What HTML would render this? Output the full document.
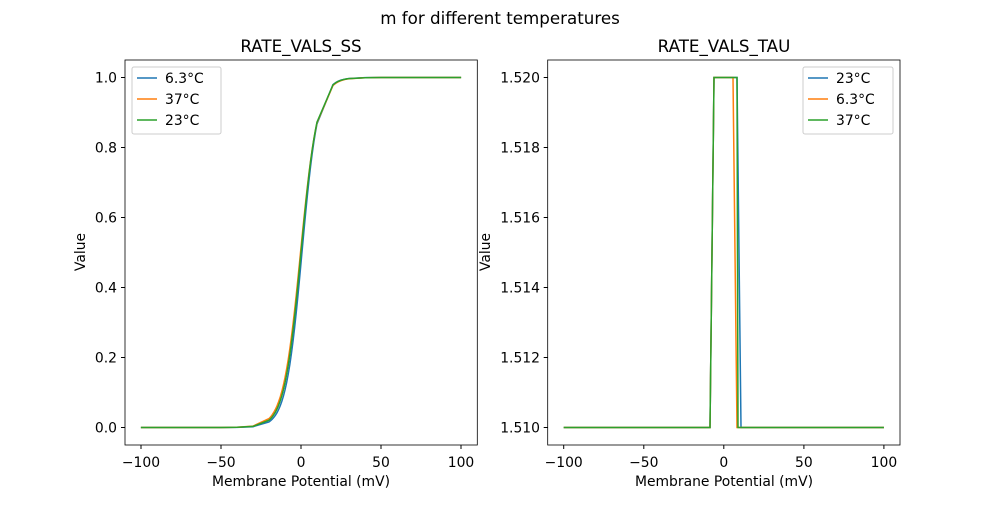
<!DOCTYPE html>
<html><head><meta charset="utf-8"><style>
body{margin:0;background:#fff}
text{font-family:"DejaVu Sans","Liberation Sans",sans-serif;font-size:13.9px;fill:#000}
</style></head><body>
<svg width="1000" height="500" xmlns="http://www.w3.org/2000/svg">
<rect width="1000" height="500" fill="#fff"/>
<text x="500" y="24" text-anchor="middle" style="font-size:16.7px">m for different temperatures</text>
<!-- Left axes -->
<g>
<text x="301" y="52" text-anchor="middle" style="font-size:16.7px">RATE_VALS_SS</text>
<g stroke="#000" stroke-width="1">
<line x1="141" y1="445" x2="141" y2="449"/><line x1="221" y1="445" x2="221" y2="449"/><line x1="301" y1="445" x2="301" y2="449"/><line x1="381" y1="445" x2="381" y2="449"/><line x1="461" y1="445" x2="461" y2="449"/>
<line x1="121" y1="427.5" x2="125" y2="427.5"/><line x1="121" y1="357.5" x2="125" y2="357.5"/><line x1="121" y1="287.5" x2="125" y2="287.5"/><line x1="121" y1="217.5" x2="125" y2="217.5"/><line x1="121" y1="147.5" x2="125" y2="147.5"/><line x1="121" y1="77.5" x2="125" y2="77.5"/>
</g>
<g text-anchor="middle">
<text x="141" y="467">−100</text><text x="221" y="467">−50</text><text x="301" y="467">0</text><text x="381" y="467">50</text><text x="461" y="467">100</text>
</g>
<g text-anchor="end">
<text x="117" y="432.5">0.0</text><text x="117" y="362.5">0.2</text><text x="117" y="292.5">0.4</text><text x="117" y="222.5">0.6</text><text x="117" y="152.5">0.8</text><text x="117" y="82.5">1.0</text>
</g>
<text x="301" y="486" text-anchor="middle">Membrane Potential (mV)</text>
<text transform="translate(85,252) rotate(-90)" text-anchor="middle">Value</text>
<g fill="none" stroke-width="1.5" id="ss"></g>
<rect x="125" y="60" width="352.3" height="385" fill="none" stroke="#000" stroke-width="0.8"/>
<g>
<rect x="132" y="67" width="89" height="67" fill="#fff" stroke="#ccc" rx="2"/>
<line x1="137" y1="78" x2="157" y2="78" stroke="#1f77b4" stroke-width="1.5"/><text x="165" y="83">6.3°C</text>
<line x1="137" y1="99" x2="157" y2="99" stroke="#ff7f0e" stroke-width="1.5"/><text x="165" y="104">37°C</text>
<line x1="137" y1="120" x2="157" y2="120" stroke="#2ca02c" stroke-width="1.5"/><text x="165" y="125">23°C</text>
</g>
</g>
<!-- Right axes -->
<g>
<text x="724" y="52" text-anchor="middle" style="font-size:16.7px">RATE_VALS_TAU</text>
<g stroke="#000" stroke-width="1">
<line x1="563.7" y1="445" x2="563.7" y2="449"/><line x1="643.8" y1="445" x2="643.8" y2="449"/><line x1="723.8" y1="445" x2="723.8" y2="449"/><line x1="803.9" y1="445" x2="803.9" y2="449"/><line x1="883.9" y1="445" x2="883.9" y2="449"/>
<line x1="543.7" y1="427.5" x2="547.7" y2="427.5"/><line x1="543.7" y1="357.5" x2="547.7" y2="357.5"/><line x1="543.7" y1="287.5" x2="547.7" y2="287.5"/><line x1="543.7" y1="217.5" x2="547.7" y2="217.5"/><line x1="543.7" y1="147.5" x2="547.7" y2="147.5"/><line x1="543.7" y1="77.5" x2="547.7" y2="77.5"/>
</g>
<g text-anchor="middle">
<text x="563.7" y="467">−100</text><text x="643.8" y="467">−50</text><text x="723.8" y="467">0</text><text x="803.9" y="467">50</text><text x="883.9" y="467">100</text>
</g>
<g text-anchor="end">
<text x="540" y="432.5">1.510</text><text x="540" y="362.5">1.512</text><text x="540" y="292.5">1.514</text><text x="540" y="222.5">1.516</text><text x="540" y="152.5">1.518</text><text x="540" y="82.5">1.520</text>
</g>
<text x="724" y="486" text-anchor="middle">Membrane Potential (mV)</text>
<text transform="translate(490,252) rotate(-90)" text-anchor="middle">Value</text>
<g fill="none" stroke-width="1.5">
<polyline stroke="#1f77b4" points="563.7,427.5 710,427.5 714,77.5 737,77.5 741,427.5 883.9,427.5"/>
<polyline stroke="#ff7f0e" points="563.7,427.5 710,427.5 714,77.5 733,77.5 737,427.5 883.9,427.5"/>
<polyline stroke="#2ca02c" points="563.7,427.5 710,427.5 714,77.5 737,77.5 738,427.5 883.9,427.5"/>
</g>
<rect x="547.7" y="60" width="352.3" height="385" fill="none" stroke="#000" stroke-width="0.8"/>
<g>
<rect x="803" y="67" width="90" height="67" fill="#fff" stroke="#ccc" rx="2"/>
<line x1="808" y1="78" x2="828" y2="78" stroke="#1f77b4" stroke-width="1.5"/><text x="836" y="83">23°C</text>
<line x1="808" y1="99" x2="828" y2="99" stroke="#ff7f0e" stroke-width="1.5"/><text x="836" y="104">6.3°C</text>
<line x1="808" y1="120" x2="828" y2="120" stroke="#2ca02c" stroke-width="1.5"/><text x="836" y="125">37°C</text>
</g>
</g>
</svg>
<script>
(function(){
var g=document.getElementById('ss');
var series=[["#1f77b4",0.6,5.0],["#ff7f0e",-0.3,5.4],["#2ca02c",0,5.2]];
series.forEach(function(s){
 var pts=[];
 for(var v=-100;v<=100;v+=(Math.abs(v)<30?1:10)){
  var vv=Math.min(v,20);
  var m=1/(1+Math.exp(-(v-s[1])/s[2]));
  if(v>10&&v<20){m=null;}
  if(m===null)continue;
  pts.push((301+v*1.601).toFixed(1)+","+(427.5-m*350).toFixed(1));
 }
 var p=document.createElementNS("http://www.w3.org/2000/svg","polyline");
 p.setAttribute("stroke",s[0]);p.setAttribute("points",pts.join(" "));
 g.appendChild(p);
});
})();
</script>
</body></html>
